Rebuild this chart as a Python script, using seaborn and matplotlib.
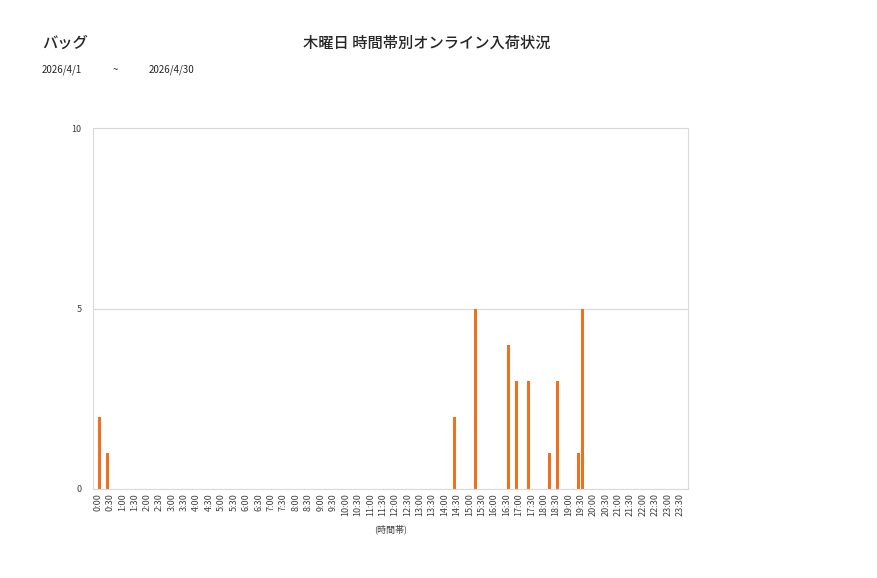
import pandas as pd
import numpy as np
import matplotlib
matplotlib.use("Agg")
import matplotlib.pyplot as plt
import seaborn as sns

# 10-minute slots over the day
slots = [f"{h}:{m:02d}" for h in range(24) for m in (0, 10, 20, 30, 40, 50)]

# arrivals (slot -> count)
arrival_slots = ["0:10", "0:30", "14:30", "15:20", "16:40", "17:00",
                 "17:30", "18:20", "18:40", "19:30", "19:40"]
arrival_counts = [2, 1, 2, 5, 4, 3, 3, 1, 3, 1, 5]

counts = dict(zip(arrival_slots, arrival_counts))
df = pd.DataFrame({"slot": slots, "count": [counts.get(s, 0) for s in slots]})

sns.set_style("white")
plt.rcParams["font.family"] = ["Noto Sans CJK JP", "DejaVu Sans"]

fig = plt.figure(figsize=(8.77, 5.78), dpi=100)
ax = fig.add_axes([0.106, 0.154, 0.6785, 0.6245])

sns.barplot(data=df, x="slot", y="count", color="#F07020", width=0.72,
            saturation=1, linewidth=0, ax=ax)

ax.set_ylim(0, 10)
ax.set_yticks([0, 5, 10])
ax.set_xlim(-0.5, len(slots) - 0.5)
ax.yaxis.grid(True, color="#d9d9d9", linewidth=0.8)
ax.set_axisbelow(True)

tick_pos = list(range(0, len(slots), 3))
ax.set_xticks([p + 0.6 for p in tick_pos])
ax.set_xticklabels([slots[i] for i in tick_pos], rotation=90, fontsize=6.5,
                   color="#404040")
ax.tick_params(axis="y", labelsize=6.5, labelcolor="#404040", length=0, pad=8)
ax.tick_params(axis="x", length=0, pad=3)
for sp in ax.spines.values():
    sp.set_color("#d9d9d9")
    sp.set_linewidth(0.8)

ax.set_xlabel("(時間帯)", fontsize=6.5, color="#404040", labelpad=6)
ax.set_ylabel("")

fig.text(0.048, 0.925, "バッグ", fontsize=11, fontweight="medium", va="center")
fig.text(0.487, 0.925, "木曜日 時間帯別オンライン入荷状況", fontsize=11,
         fontweight="medium", ha="center", va="center")
fig.text(0.048, 0.879, "2026/4/1", fontsize=7, va="center")
fig.text(0.131, 0.879, "~", fontsize=7, va="center", ha="center")
fig.text(0.170, 0.879, "2026/4/30", fontsize=7, va="center")

fig.savefig("out.png", dpi=100)
